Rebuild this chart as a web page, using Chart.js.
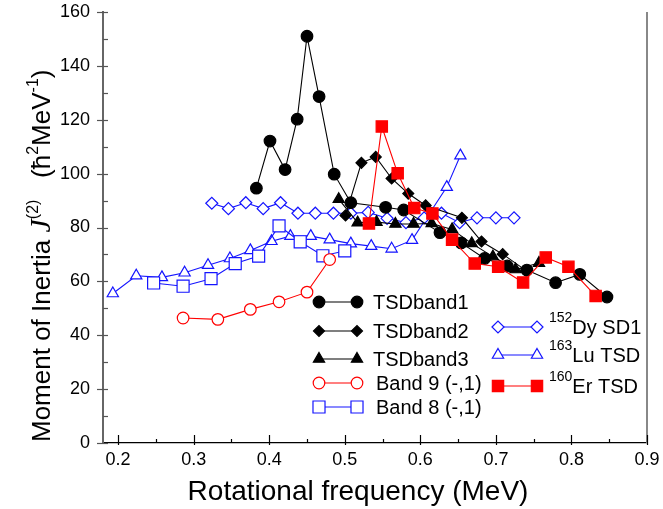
<!DOCTYPE html>
<html>
<head>
<meta charset="utf-8">
<script src="https://cdn.jsdelivr.net/npm/chart.js@4.4.1/dist/chart.umd.min.js"></script>
<style>
  html, body { margin: 0; padding: 0; background: #fff; }
</style>
</head>
<body>
<canvas id="inertiaChart" width="663" height="509"></canvas>
<script>
const xTicks = [0.2, 0.3, 0.4, 0.5, 0.6, 0.7, 0.8, 0.9];
const yTicks = [0, 20, 40, 60, 80, 100, 120, 140, 160];

// rotational frequency (MeV) and J(2) values
const tsd1Freq = [0.383, 0.401, 0.421, 0.437, 0.450, 0.466, 0.486, 0.508, 0.554, 0.578, 0.626, 0.654, 0.685, 0.715, 0.741, 0.779, 0.811, 0.847];
const tsd1J2 = [94.6, 112.1, 101.5, 120.2, 151.0, 128.6, 99.8, 89.2, 87.5, 86.5, 78.1, 74.3, 68.5, 65.7, 64.2, 59.5, 62.6, 54.2];

const tsd2Freq = [0.501, 0.522, 0.541, 0.562, 0.584, 0.607, 0.655, 0.681, 0.709, 0.740];
const tsd2J2 = [84.5, 104.0, 106.2, 98.2, 92.6, 88.2, 83.6, 74.8, 70.1, 64.0];

const tsd3Freq = [0.492, 0.517, 0.542, 0.567, 0.591, 0.615, 0.642, 0.668, 0.696, 0.726, 0.757];
const tsd3J2 = [90.5, 81.8, 82.0, 81.3, 81.3, 81.5, 79.3, 74.1, 69.2, 64.4, 66.8];

const band9Freq = [0.286, 0.332, 0.375, 0.413, 0.450, 0.480];
const band9J2 = [46.4, 45.9, 49.6, 52.4, 56.0, 68.1];

const band8Freq = [0.247, 0.286, 0.323, 0.355, 0.386, 0.413, 0.441, 0.471, 0.500];
const band8J2 = [59.4, 58.2, 61.0, 66.6, 69.4, 80.6, 74.7, 69.5, 71.3];

const dyFreq = [0.324, 0.346, 0.369, 0.392, 0.415, 0.438, 0.461, 0.485, 0.508, 0.531, 0.556, 0.581, 0.605, 0.628, 0.652, 0.675, 0.700, 0.724];
const dyJ2 = [89.0, 87.0, 89.2, 87.0, 89.2, 85.3, 85.3, 85.3, 85.3, 85.6, 83.4, 81.8, 83.6, 85.3, 81.8, 83.6, 83.6, 83.6];

const luFreq = [0.193, 0.224, 0.258, 0.288, 0.319, 0.348, 0.375, 0.403, 0.428, 0.455, 0.480, 0.508, 0.535, 0.562, 0.589, 0.635, 0.653];
const luJ2 = [55.5, 62.1, 61.5, 63.2, 66.0, 68.5, 71.5, 74.9, 76.8, 76.8, 75.5, 74.0, 73.1, 72.1, 75.3, 95.0, 106.7];

const erFreq = [0.532, 0.549, 0.570, 0.592, 0.616, 0.642, 0.672, 0.703, 0.736, 0.766, 0.796, 0.832];
const erJ2 = [81.5, 117.5, 100.1, 87.2, 85.2, 75.5, 66.6, 65.4, 59.6, 68.9, 65.4, 54.6];

const FONT = "'Liberation Sans', Arial, sans-serif";
const BLUE = '#1414ff';
const RED = '#ff0000';

function pts(xs, ys) {
  return xs.map((x, i) => ({ x: x, y: ys[i] }));
}

function series(label, xs, ys, color, style, radius, fill, order) {
  return {
    label: label,
    data: pts(xs, ys),
    borderColor: color,
    borderWidth: 1.1,
    pointStyle: style,
    pointRadius: radius,
    pointBackgroundColor: fill,
    pointBorderColor: color,
    pointBorderWidth: 1.2,
    tension: 0,
    fill: false,
    order: order
  };
}

const datasets = [
  series('TSDband1', tsd1Freq, tsd1J2, '#000', 'circle', 5.8, '#000', 2),
  series('TSDband2', tsd2Freq, tsd2J2, '#000', 'rectRot', 5.5, '#000', 3),
  series('TSDband3', tsd3Freq, tsd3J2, '#000', 'triangle', 6.5, '#000', 4),
  series('Band 9 (-,1)', band9Freq, band9J2, RED, 'circle', 5.8, '#fff', 5),
  series('Band 8 (-,1)', band8Freq, band8J2, BLUE, 'rect', 8.5, '#fff', 6),
  series('152Dy SD1', dyFreq, dyJ2, BLUE, 'rectRot', 6, '#fff', 7),
  series('163Lu TSD', luFreq, luJ2, BLUE, 'triangle', 6.5, '#fff', 8),
  series('160Er TSD', erFreq, erJ2, RED, 'rect', 8, RED, 1)
];

// legend layout: [dataset index, line x start, line x end, text x, row y, superscript]
const legendItems = [
  [0, 319, 357, 373, 302, ''],
  [1, 319, 357, 373, 331, ''],
  [2, 319, 357, 373, 359, ''],
  [3, 319, 357, 376, 383, ''],
  [4, 319, 357, 376, 407, ''],
  [5, 498, 537, 549, 327, '152'],
  [6, 498, 537, 549, 355, '163'],
  [7, 498, 537, 549, 386, '160']
];

const decorations = {
  id: 'decorations',
  afterDraw(chart) {
    const ctx = chart.ctx;
    const area = chart.chartArea;
    const xs = chart.scales.x;
    const ys = chart.scales.y;
    ctx.save();

    // right frame line
    ctx.strokeStyle = '#888';
    ctx.lineWidth = 2;
    ctx.beginPath();
    ctx.moveTo(area.right, area.top);
    ctx.lineTo(area.right, area.bottom);
    ctx.stroke();

    // y ticks (major + minor)
    ctx.strokeStyle = '#555';
    ctx.lineWidth = 1.2;
    for (let v = 0; v <= 160; v += 10) {
      const py = Math.round(ys.getPixelForValue(v)) + 0.5;
      ctx.beginPath();
      if (v % 20 === 0) {
        ctx.moveTo(area.left - 6, py);
      } else {
        ctx.moveTo(area.left, py);
      }
      ctx.lineTo(area.left + 5, py);
      ctx.stroke();
    }
    // x ticks
    ctx.strokeStyle = '#000';
    for (let k = 4; k <= 18; k++) {
      const px = Math.round(xs.getPixelForValue(k * 0.05)) + 0.5;
      ctx.beginPath();
      if (k % 2 === 0) {
        ctx.moveTo(px, area.bottom + 2);
        ctx.lineTo(px, area.bottom - 8);
      } else {
        ctx.moveTo(px, area.bottom);
        ctx.lineTo(px, area.bottom - 4);
      }
      ctx.stroke();
    }

    // x title
    ctx.fillStyle = '#000';
    ctx.font = '28px ' + FONT;
    ctx.textAlign = 'center';
    ctx.textBaseline = 'middle';
    ctx.fillText('Rotational frequency (MeV)', 358, 492);

    // y title with superscripts
    ctx.save();
    ctx.translate(50, 442);
    ctx.rotate(-Math.PI / 2);
    ctx.textAlign = 'left';
    ctx.textBaseline = 'alphabetic';
    const big = '26px ' + FONT;
    const small = '16px ' + FONT;
    const parts = [
      ['Moment of Inertia ', big, 0],
      ['J', "italic 30px 'Liberation Serif', serif", 0],
      ['(2)', small, -12],
      ['   (\u0127', big, 0],
      ['2', small, -12],
      ['MeV', big, 0],
      ['-1', small, -12],
      [')', big, 0]
    ];
    let pos = 0;
    parts.forEach(p => {
      ctx.font = p[1];
      ctx.fillText(p[0], pos, p[2]);
      pos += ctx.measureText(p[0]).width;
    });
    ctx.restore();

    // legend
    legendItems.forEach(item => {
      const ds = chart.data.datasets[item[0]];
      const y = item[4];
      ctx.strokeStyle = ds.borderColor;
      ctx.lineWidth = 1.2;
      ctx.beginPath();
      ctx.moveTo(item[1], y);
      ctx.lineTo(item[2], y);
      ctx.stroke();
      [item[1], item[2]].forEach(px => {
        ctx.fillStyle = ds.pointBackgroundColor;
        ctx.strokeStyle = ds.pointBorderColor;
        ctx.lineWidth = ds.pointBorderWidth;
        Chart.helpers.drawPoint(ctx, {
          pointStyle: ds.pointStyle,
          radius: ds.pointRadius,
          rotation: 0,
          borderWidth: ds.pointBorderWidth
        }, px, y);
      });
      ctx.fillStyle = '#000';
      ctx.textAlign = 'left';
      ctx.textBaseline = 'middle';
      let tx = item[3];
      let text = ds.label;
      if (item[5]) {
        ctx.font = '14px ' + FONT;
        ctx.fillText(item[5], tx, y - 9);
        tx += ctx.measureText(item[5]).width;
        text = ds.label.slice(item[5].length);
      }
      ctx.font = '20px ' + FONT;
      ctx.fillText(text, tx, y + 1);
    });

    ctx.restore();
  }
};

const ctx = document.getElementById('inertiaChart').getContext('2d');
const chart = new Chart(ctx, {
  type: 'line',
  data: { datasets: datasets },
  options: {
    responsive: false,
    animation: false,
    layout: { padding: { top: 12, right: 16, left: 0, bottom: 0 } },
    plugins: {
      legend: { display: false },
      tooltip: { enabled: false }
    },
    scales: {
      x: {
        type: 'linear',
        min: 0.18,
        max: 0.9,
        afterBuildTicks: s => { s.ticks = xTicks.map(v => ({ value: v })); },
        afterFit: s => {
          s.height = 66;
          s.paddingLeft = 0;
          s.paddingRight = 0;
        },
        grid: { drawOnChartArea: false, drawTicks: false },
        border: { color: '#000', width: 1.2 },
        ticks: {
          padding: 6,
          color: '#000',
          maxRotation: 0,
          autoSkip: false,
          font: { family: FONT, size: 18 },
          callback: v => v.toFixed(1)
        }
      },
      y: {
        type: 'linear',
        min: 0,
        max: 160,
        afterBuildTicks: s => { s.ticks = yTicks.map(v => ({ value: v })); },
        afterFit: s => {
          s.width = 103;
          s.paddingTop = 0;
          s.paddingBottom = 0;
        },
        grid: { drawOnChartArea: false, drawTicks: false },
        border: { color: '#666', width: 2 },
        ticks: {
          padding: 13,
          color: '#000',
          autoSkip: false,
          font: { family: FONT, size: 18 },
          callback: v => String(v)
        }
      }
    }
  },
  plugins: [decorations]
});
</script>
</body>
</html>
